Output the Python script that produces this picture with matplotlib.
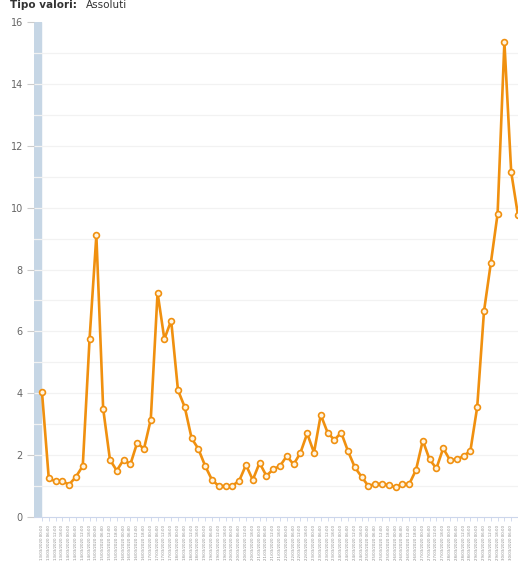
import matplotlib.pyplot as plt
import numpy as np
import pandas as pd

# values (one point per time slot)
values = [4.05, 1.25, 1.15, 1.15, 1.05, 1.3, 1.65, 5.75, 9.1, 3.5,
          1.85, 1.5, 1.85, 1.7, 2.4, 2.2, 3.15, 7.25, 5.75, 6.35,
          4.1, 3.55, 2.55, 2.2, 1.65, 1.2, 1.0, 1.0, 1.01, 1.17,
          1.68, 1.2, 1.75, 1.33, 1.54, 1.65, 1.97, 1.7, 2.07, 2.7,
          2.08, 3.3, 2.73, 2.49, 2.73, 2.13, 1.61, 1.3, 1.0, 1.07,
          1.07, 1.03, 0.96, 1.07, 1.06, 1.52, 2.47, 1.86, 1.57, 2.22,
          1.84, 1.86, 1.97, 2.14, 3.55, 6.65, 8.2, 9.8, 15.35, 11.15,
          9.75]
# category labels (too small to read in the reference, rebuilt as time slots)
labels = [d.strftime("%d/%m/%Y %H:%M")
          for d in pd.date_range("2020-03-13 00:00", periods=len(values), freq="6h")]
labels[-1] = ""  # last one sits on the image edge
y_ticks = [0, 2, 4, 6, 8, 10, 12, 14, 16]

line_color = "#f0900f"

fig = plt.figure(figsize=(5.18, 5.67), dpi=100)
ax = fig.add_axes([34 / 518, 50 / 567, 1 - 34 / 518, 495 / 567])

x = np.arange(len(values))
ax.set_xlim(-1.17, len(values) - 1)
ax.set_ylim(0, 16)

# blue band on the left edge of the plot
ax.axvspan(-1.17, -0.12, color="#c6d6e5", zorder=1)
# faint horizontal grid at every unit
for v in range(1, 16):
    ax.axhline(v, color="#f2f2f2", lw=0.9, zorder=1.5)

ax.plot(x, values, color=line_color, lw=1.9, marker="o", markersize=4.2,
        markerfacecolor="#fff4e0", markeredgecolor=line_color,
        markeredgewidth=1.2, zorder=3)

for s in ["top", "right", "left"]:
    ax.spines[s].set_visible(False)
ax.spines["bottom"].set_color("#ccd6eb")
ax.spines["bottom"].set_linewidth(0.8)

ax.set_yticks(y_ticks)
ax.tick_params(axis="y", length=5, color="#cccccc", width=0.8, pad=3,
               labelsize=7, labelcolor="#666666")
ax.set_xticks(x)
ax.set_xticklabels(labels, rotation=90, fontsize=2.8, color="#8a8a8a")
ax.tick_params(axis="x", length=3, color="#ccd6eb", width=0.6, pad=3)

fig.text(10 / 518, 1 - 8 / 567, "Tipo valori:", fontsize=7.5, fontweight="bold",
         color="#333333", va="baseline")
fig.text(86 / 518, 1 - 8 / 567, "Assoluti", fontsize=7.5, color="#333333",
         va="baseline")

fig.savefig("out.png", dpi=100)
